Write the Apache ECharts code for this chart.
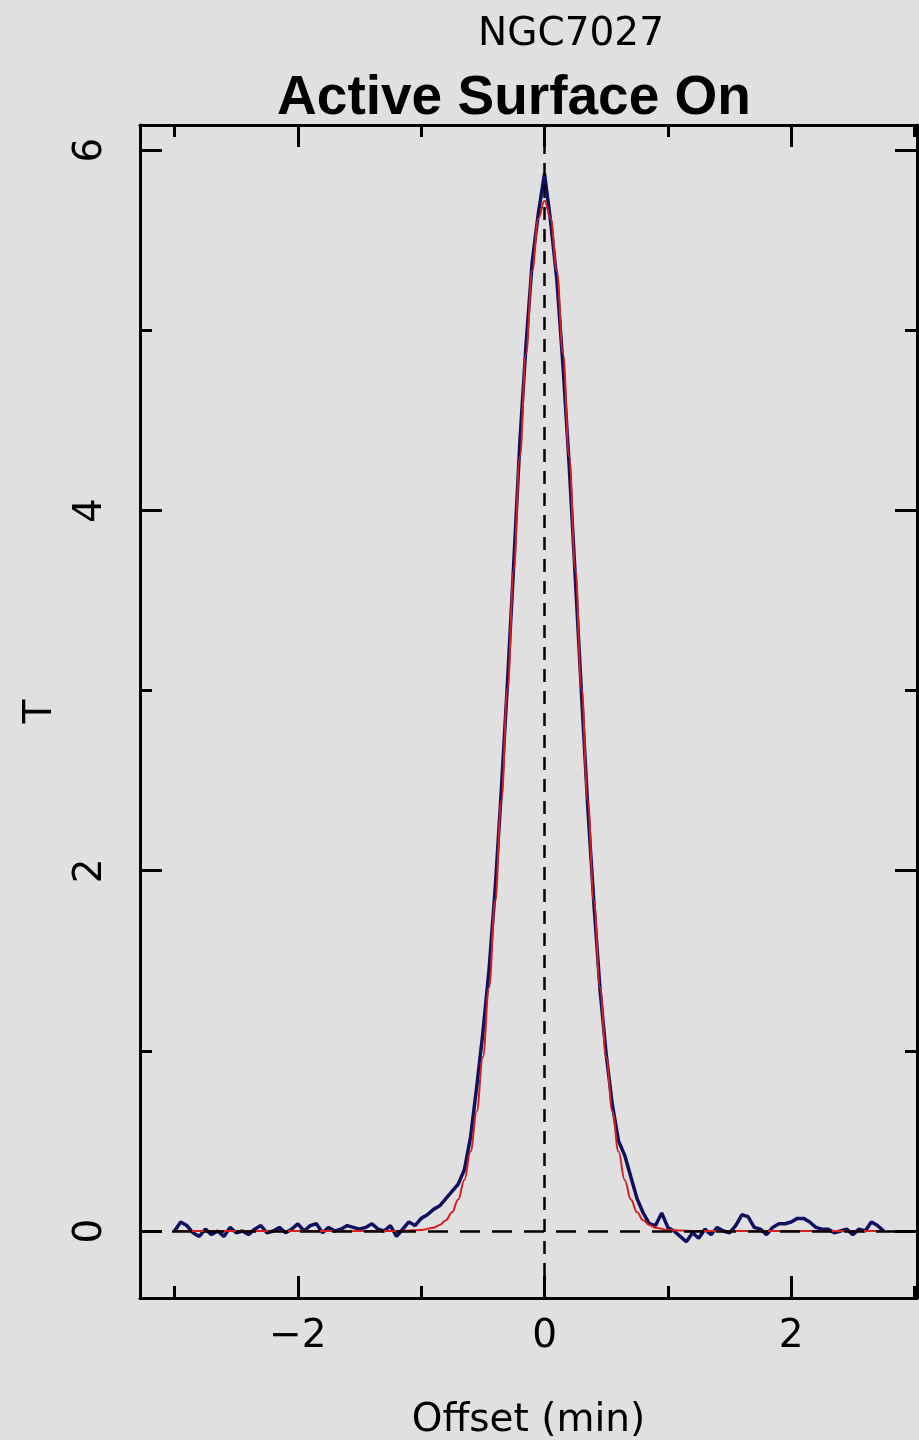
<!DOCTYPE html>
<html><head><meta charset="utf-8">
<script src="https://cdn.jsdelivr.net/npm/echarts@6/dist/echarts.min.js"></script>
<style>html,body{margin:0;padding:0;background:#e0e0e0}#c{width:919px;height:1440px}</style>
</head><body><div id="c"></div><script>
const titleTop = 'NGC7027';
const titleMain = 'Active Surface On';
const xName = 'Offset (min)';
const yName = 'T';
const xMajorTicks = [-2, 0, 2];
const xMinorTicks = [-3, -1, 1, 3];
const yMajorTicks = [0, 2, 4, 6];
const yMinorTicks = [1, 3, 5];
const xRange = [-3.28, 3.02];
const yRange = [-0.372, 6.14];

const dataOffsets = [
 -3.00,-2.95,-2.90,-2.85,-2.80,-2.75,-2.70,-2.65,-2.60,-2.55,-2.50,-2.45,-2.40,-2.35,-2.30,-2.25,-2.20,-2.15,-2.10,-2.05,
 -2.00,-1.95,-1.90,-1.85,-1.80,-1.75,-1.70,-1.65,-1.60,-1.55,-1.50,-1.45,-1.40,-1.35,-1.30,-1.25,-1.20,-1.15,-1.10,-1.05,
 -1.00,-0.95,-0.90,-0.85,-0.80,-0.75,-0.70,-0.65,-0.60,-0.55,-0.50,-0.45,-0.40,-0.35,-0.30,-0.25,-0.20,-0.15,-0.10,-0.05,
 0.00,0.05,0.10,0.15,0.20,0.25,0.30,0.35,0.40,0.45,0.50,0.55,0.60,0.65,0.70,0.75,0.80,0.85,0.90,0.95,
 1.00,1.05,1.10,1.15,1.20,1.25,1.30,1.35,1.40,1.45,1.50,1.55,1.60,1.65,1.70,1.75,1.80,1.85,1.90,1.95,
 2.00,2.05,2.10,2.15,2.20,2.25,2.30,2.35,2.40,2.45,2.50,2.55,2.60,2.65,2.70,2.75
];
const dataT = [
 0.00,0.05,0.03,-0.01,-0.03,0.01,-0.02,0.00,-0.03,0.02,-0.01,0.00,-0.02,0.01,0.03,-0.01,0.00,0.02,-0.01,0.01,
 0.04,0.00,0.03,0.04,-0.01,0.02,0.00,0.01,0.03,0.02,0.01,0.02,0.04,0.01,0.00,0.03,-0.03,0.01,0.05,0.03,
 0.07,0.09,0.12,0.14,0.18,0.22,0.26,0.34,0.52,0.80,1.10,1.45,1.90,2.45,3.05,3.70,4.38,4.92,5.38,5.65,
 5.87,5.60,5.28,4.80,4.25,3.62,2.98,2.36,1.82,1.34,0.98,0.70,0.50,0.42,0.30,0.18,0.10,0.04,0.03,0.10,
 0.02,0.00,-0.03,-0.06,-0.01,-0.04,0.01,-0.02,0.02,0.00,-0.01,0.03,0.09,0.08,0.02,0.01,-0.02,0.02,0.04,0.04,
 0.05,0.07,0.07,0.05,0.02,0.01,0.01,-0.01,0.00,0.01,-0.02,0.01,0.00,0.05,0.03,0.00
];
const fitOffsets = [
 -3.00,-1.20,-1.00,-0.90,-0.85,-0.80,-0.75,-0.70,-0.65,-0.60,-0.55,-0.50,-0.45,-0.40,-0.35,-0.30,-0.25,-0.20,-0.15,-0.10,-0.05,
 0.00,0.05,0.10,0.15,0.20,0.25,0.30,0.35,0.40,0.45,0.50,0.55,0.60,0.65,0.70,0.75,0.80,0.85,0.90,1.00,1.20,2.75
];
const fitT = [
 0.000,0.000,0.005,0.018,0.033,0.060,0.104,0.175,0.283,0.441,0.664,0.964,1.35,1.83,2.39,3.01,3.67,4.30,4.87,5.33,5.62,
 5.72,5.62,5.33,4.87,4.30,3.67,3.01,2.39,1.83,1.35,0.964,0.664,0.441,0.283,0.175,0.104,0.060,0.033,0.018,0.005,0.000,0.000
];

const FONT = 'DejaVu Sans';
const fmt = v => (v < 0 ? '\u2212' + Math.abs(v) : String(v));
const lineStyle = { color: '#000', width: 3 };

function xAxisDef(position, ticks, len, withLabels, showLine) {
  return {
    type: 'value', position, min: xRange[0], max: xRange[1],
    axisLine: { show: showLine, onZero: false, lineStyle },
    axisTick: { show: true, inside: true, length: len, customValues: ticks, lineStyle: { color: '#000', width: 3 } },
    axisLabel: withLabels ? { show: true, customValues: ticks, formatter: fmt, color: '#000', fontFamily: FONT, fontSize: 39, margin: 19 } : { show: false },
    splitLine: { show: false },
    name: withLabels ? xName : '', nameLocation: 'middle', nameGap: 103,
    nameTextStyle: { color: '#000', fontFamily: FONT, fontSize: 39 }
  };
}
function yAxisDef(position, ticks, len, withLabels, showLine) {
  return {
    type: 'value', position, min: yRange[0], max: yRange[1],
    axisLine: { show: showLine, onZero: false, lineStyle },
    axisTick: { show: true, inside: true, length: len, customValues: ticks, lineStyle: { color: '#000', width: 3 } },
    axisLabel: withLabels ? { show: true, customValues: ticks, rotate: 90, formatter: fmt, color: '#000', fontFamily: FONT, fontSize: 39, margin: 30 } : { show: false },
    splitLine: { show: false },
    name: withLabels ? yName : '', nameLocation: 'middle', nameGap: 80, nameRotate: 90,
    nameTextStyle: { color: '#000', fontFamily: FONT, fontSize: 39 }
  };
}

const chart = echarts.init(document.getElementById('c'), null, { renderer: 'canvas' });
chart.setOption({
  animation: false,
  backgroundColor: '#e0e0e0',
  title: [
    { text: titleTop, left: 571, top: 15, textAlign: 'center', padding: 0,
      textStyle: { fontFamily: FONT, fontSize: 39, fontWeight: 'normal', color: '#000' } },
    { text: titleMain, left: 514, top: 71, textAlign: 'center', padding: 0,
      textStyle: { fontFamily: 'Liberation Sans', fontSize: 55, fontWeight: 'bold', color: '#000' } }
  ],
  grid: { left: 140, right: 2, top: 125, bottom: 142, containLabel: false, outerBoundsMode: 'none', show: false },
  xAxis: [
    xAxisDef('bottom', xMajorTicks, 22, true, true),
    xAxisDef('bottom', xMinorTicks, 12, false, false),
    xAxisDef('top', xMajorTicks, 22, false, true),
    xAxisDef('top', xMinorTicks, 12, false, false)
  ],
  yAxis: [
    yAxisDef('left', yMajorTicks, 22, true, true),
    yAxisDef('left', yMinorTicks, 12, false, false),
    yAxisDef('right', yMajorTicks, 22, false, true),
    yAxisDef('right', yMinorTicks, 12, false, false)
  ],
  series: [
    {
      type: 'line', name: 'data', xAxisIndex: 0, yAxisIndex: 0,
      data: dataOffsets.map((x, i) => [x, dataT[i]]),
      showSymbol: false, symbol: 'none',
      lineStyle: { color: '#101060', width: 3.5 },
      z: 3,
      markLine: {
        silent: true, symbol: 'none', label: { show: false },
        data: [
          { yAxis: 0, lineStyle: { color: '#000', width: 2.5, type: [20, 12] } },
          { xAxis: 0, lineStyle: { color: '#000', width: 2.5, type: [13, 9] } }
        ]
      }
    },
    {
      type: 'line', name: 'fit', xAxisIndex: 0, yAxisIndex: 0,
      data: fitOffsets.map((x, i) => [x, fitT[i]]),
      showSymbol: false, symbol: 'none', smooth: 0.4, smoothMonotone: 'x',
      lineStyle: { color: '#d42020', width: 2 },
      z: 4
    }
  ]
});
</script></body></html>
